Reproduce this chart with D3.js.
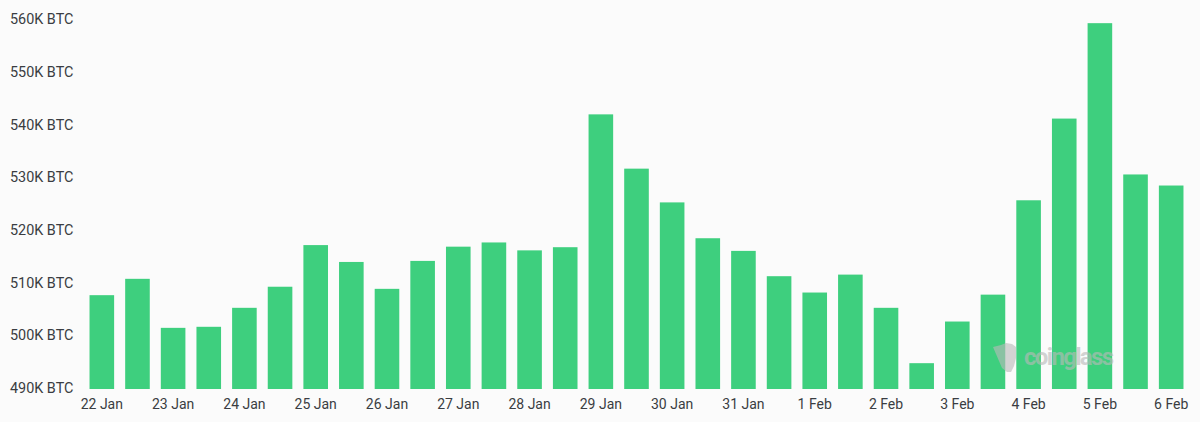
<!DOCTYPE html>
<html>
<head>
<meta charset="utf-8">
<script src="https://cdn.jsdelivr.net/npm/d3@7"></script>
<style>
  html, body { margin: 0; padding: 0; background: #fbfbfb; }
  text { font-family: Roboto, sans-serif; }
</style>
</head>
<body>
<div id="chart"></div>
<script>
// bar days, one bar every 12 hours
var periods = ["22 Jan","22 Jan pm","23 Jan","23 Jan pm","24 Jan","24 Jan pm","25 Jan","25 Jan pm",
  "26 Jan","26 Jan pm","27 Jan","27 Jan pm","28 Jan","28 Jan pm","29 Jan","29 Jan pm",
  "30 Jan","30 Jan pm","31 Jan","31 Jan pm","1 Feb","1 Feb pm","2 Feb","2 Feb pm",
  "3 Feb","3 Feb pm","4 Feb","4 Feb pm","5 Feb","5 Feb pm","6 Feb"];
// thousands of BTC
var values = [507.8,510.9,501.6,501.8,505.4,509.4,517.3,514.1,
  509.0,514.3,517.0,517.8,516.3,516.9,542.1,531.8,
  525.4,518.6,516.2,511.4,508.3,511.7,505.4,494.9,
  502.8,507.9,525.8,541.3,559.4,530.7,528.6];
var yTicks = [490,500,510,520,530,540,550,560];
var xTicks = ["22 Jan","23 Jan","24 Jan","25 Jan","26 Jan","27 Jan","28 Jan","29 Jan",
  "30 Jan","31 Jan","1 Feb","2 Feb","3 Feb","4 Feb","5 Feb","6 Feb"];

var width = 1200, height = 422;
var margin = {top: 20, right: 11, bottom: 33, left: 84};

var svg = d3.select("#chart")
  .append("svg")
    .attr("width", width)
    .attr("height", height)
    .style("display", "block");

var x = d3.scaleBand()
  .domain(periods)
  .range([margin.left, width - margin.right])
  .paddingInner(0.31)
  .paddingOuter(0.155);

var y = d3.scaleLinear()
  .domain([490, 560])
  .range([height - margin.bottom, margin.top]);

// bars
svg.append("g")
  .selectAll("rect")
  .data(values)
  .enter()
  .append("rect")
    .attr("x", function(d, i){ return x(periods[i]); })
    .attr("y", function(d){ return y(d); })
    .attr("width", x.bandwidth())
    .attr("height", function(d){ return y(490) - y(d); })
    .attr("fill", "#3ecf7e");

// x axis, only the labelled days
var xAxis = svg.append("g")
  .attr("transform", "translate(0," + (height - margin.bottom) + ")")
  .call(d3.axisBottom(x).tickValues(xTicks).tickSize(0).tickPadding(10));
xAxis.select(".domain").remove();
xAxis.selectAll("text")
  .attr("font-size", 14)
  .attr("fill", "#3a3d42")
  .style("font-family", "Roboto, sans-serif");

// y axis, labels sit at the left edge
var yAxis = svg.append("g")
  .attr("transform", "translate(10,-1)")
  .call(d3.axisRight(y).tickValues(yTicks).tickSize(0).tickPadding(0)
    .tickFormat(function(d){ return d + "K BTC"; }));
yAxis.select(".domain").remove();
yAxis.selectAll("text")
  .attr("font-size", 14.4)
  .attr("fill", "#3a3d42")
  .style("font-family", "Roboto, sans-serif");

// watermark, over the bars
var mark = svg.append("g").attr("opacity", 0.62).attr("fill", "#b9b9b9");
mark.append("path")
  .attr("d", "M993 347 L1001 345 L1006 343 L1012 344 L1016 347 L1016 358 L1014 366 L1011 372 L1009 372 L1007 372 L1002 368 L999 361 L996 354 Z");
mark.append("text")
  .attr("x", 1024)
  .attr("y", 365)
  .attr("font-size", 24)
  .attr("font-weight", 700)
  .attr("textLength", 90)
  .text("coinglass");
</script>
</body>
</html>
